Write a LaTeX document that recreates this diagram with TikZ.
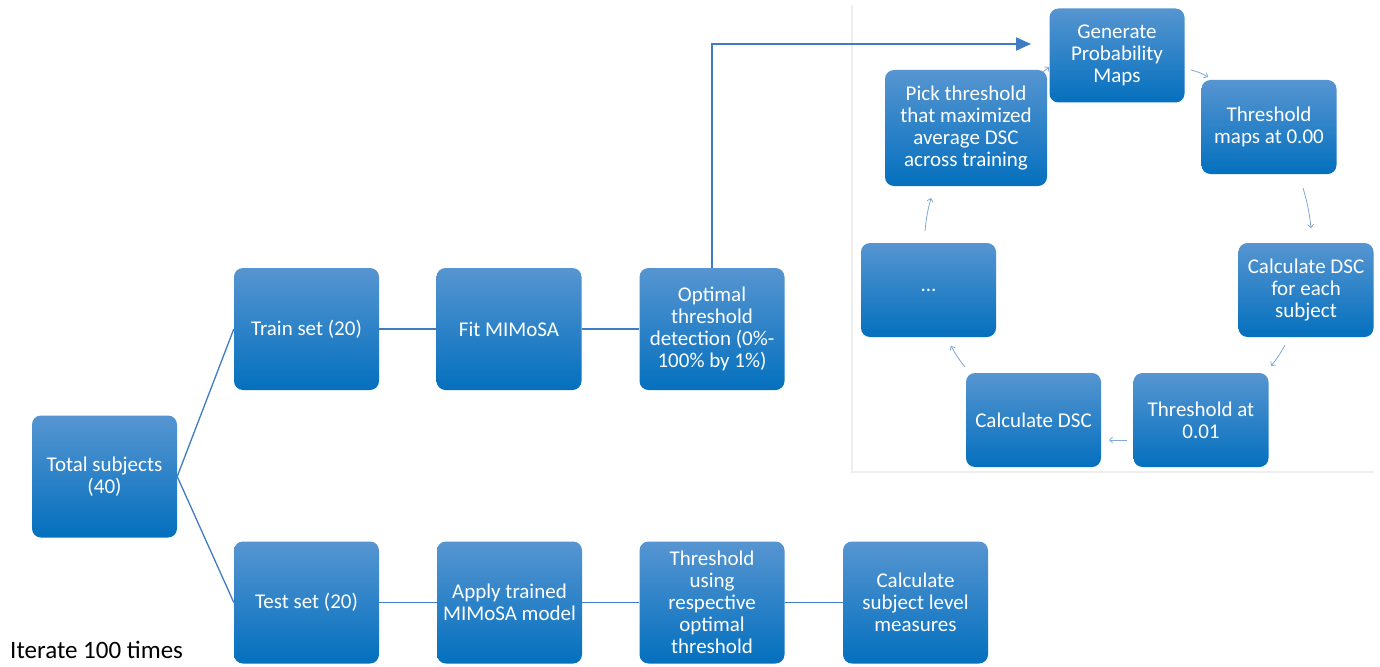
\documentclass[tikz,border=0pt]{standalone}
\usepackage{fontspec}
\setmainfont{Carlito}
\usetikzlibrary{arrows.meta}
\definecolor{boxtop}{RGB}{86,149,209}
\definecolor{boxbot}{RGB}{4,112,190}
\definecolor{conn}{RGB}{64,124,194}
\definecolor{cyccol}{RGB}{125,168,216}
\definecolor{panelcol}{RGB}{238,238,238}
\begin{document}
\begin{tikzpicture}[x=1pt,y=-1pt,
  box/.style={draw=none, rounded corners=9pt, top color=boxtop, bottom color=boxbot,
    text=white, align=center, font=\fontsize{21}{22}\selectfont,
    minimum width=145pt, minimum height=122pt, inner sep=2pt},
  cbox/.style={box, minimum width=135pt, minimum height=94pt},
  link/.style={draw=conn, line width=1.3pt},
  bigarrow/.style={draw=conn, line width=2pt, -{Triangle[length=15pt,width=13pt]}},
  cycarrow/.style={draw=cyccol, line width=0.8pt, -{Straight Barb[length=3pt,width=6pt]}},
  panel/.style={draw=panelcol, line width=1.5pt},
]
\fill[white] (0,0) rectangle (1380,666);
\path[use as bounding box] (0,0) rectangle (1380,666);

% panel frame
\coordinate (p1) at (852,5);
\coordinate (p2) at (852,472);
\coordinate (p3) at (1373,472);
\draw[panel] (p1) -- (p2) -- (p3);

% main flow
\node[box] (total) at (104.5,476.5) {Total subjects\\(40)};
\node[box] (train) at (306.5,329) {Train set (20)};
\node[box] (fit) at (509,329) {Fit MIMoSA};
\node[box] (opt) at (712,329) {Optimal\\threshold\\detection (0\%-\\100\% by 1\%)};
\node[box] (test) at (306.5,602.5) {Test set (20)};
\node[box] (apply) at (509.5,602.5) {Apply trained\\MIMoSA model};
\node[box] (thrusing) at (712,602.5) {Threshold\\using\\respective\\optimal\\threshold};
\node[box] (calcsub) at (915.5,602.5) {Calculate\\subject level\\measures};

\node[anchor=base west, font=\fontsize{25}{28}\selectfont, text=black, inner sep=0pt] (iter) at (10,658) {Iterate 100 times};

\draw[link] (total.east) -- (train.west);
\draw[link] (total.east) -- (test.west);
\draw[link] (train) -- (fit);
\draw[link] (fit) -- (opt);
\draw[link] (test) -- (apply);
\draw[link] (apply) -- (thrusing);
\draw[link] (thrusing) -- (calcsub);

% cycle
\node[cbox] (gen) at (1117,55.5) {Generate\\Probability\\Maps};
\node[cbox] (thrmaps) at (1269,127) {Threshold\\maps at 0.00};
\node[cbox] (calceach) at (1306,290) {Calculate DSC\\for each\\subject};
\node[cbox] (thr01) at (1201,420) {Threshold at\\0.01};
\node[cbox] (calcdsc) at (1033.5,420) {Calculate DSC};
\node[cbox] (dots) at (928.5,290) {...};
\node[cbox, minimum width=162pt, minimum height=116pt] (pick) at (966,128) {Pick threshold\\that maximized\\average DSC\\across training};

\coordinate (genin) at (1031,44);
\draw[bigarrow] (opt.north) |- (genin);

\coordinate (a1s) at (1191,70);  \coordinate (a1e) at (1208,77);
\coordinate (a2s) at (1303,188); \coordinate (a2e) at (1311,228);
\coordinate (a3s) at (1285,345); \coordinate (a3e) at (1271,366);
\coordinate (a4s) at (1127,440); \coordinate (a4e) at (1109,440);
\coordinate (a5s) at (965,367);  \coordinate (a5e) at (951,346);
\coordinate (a6s) at (925,231);  \coordinate (a6e) at (931,198);
\coordinate (a7s) at (1043,72);  \coordinate (a7e) at (1049,67);
\draw[cycarrow] (a1s) to[bend left=8] (a1e);
\draw[cycarrow] (a2s) to[bend left=5] (a2e);
\draw[cycarrow] (a3s) to[bend left=5] (a3e);
\draw[cycarrow] (a4s) -- (a4e);
\draw[cycarrow] (a5s) to[bend left=5] (a5e);
\draw[cycarrow] (a6s) to[bend left=5] (a6e);
\draw[cycarrow] (a7s) -- (a7e);
\end{tikzpicture}
\end{document}
